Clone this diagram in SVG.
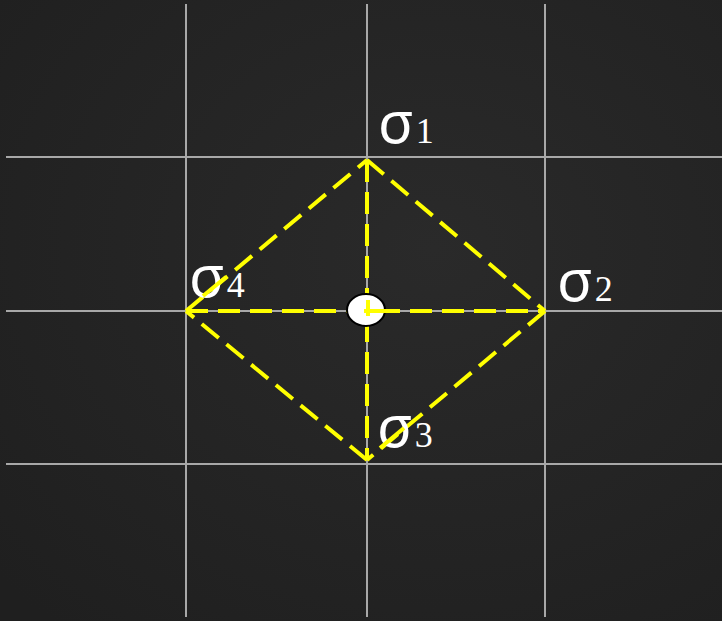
<svg xmlns="http://www.w3.org/2000/svg" width="722" height="621" viewBox="0 0 722 621">
<style>
.grid{stroke:#a8a8a8;stroke-width:2;fill:none}
.dash{stroke:#ffff00;stroke-width:4;fill:none;stroke-dasharray:22 10}
.sig{font-family:"Noto Sans","DejaVu Sans",sans-serif;font-size:58px;fill:#ffffff}
.sub{font-family:"Liberation Serif","DejaVu Serif",serif;font-size:36px;fill:#ffffff}
</style>
<defs>
<radialGradient id="bg" cx="0.6" cy="0.4" r="0.8">
<stop offset="0" stop-color="#2a2a2a"/>
<stop offset="1" stop-color="#1f1f1f"/>
</radialGradient>
</defs>
<rect width="722" height="621" fill="url(#bg)"/>
<g id="grid">
<line class="grid" x1="186" y1="4" x2="186" y2="617"/>
<line class="grid" x1="367" y1="4" x2="367" y2="617"/>
<line class="grid" x1="545" y1="4" x2="545" y2="617"/>
<line class="grid" x1="6" y1="157" x2="722" y2="157"/>
<line class="grid" x1="6" y1="311" x2="722" y2="311"/>
<line class="grid" x1="6" y1="464" x2="722" y2="464"/>
</g>
<g id="connectors">
<line class="dash" x1="367" y1="160" x2="545" y2="311"/>
<line class="dash" x1="545" y1="311" x2="367" y2="460"/>
<line class="dash" x1="367" y1="460" x2="186" y2="311"/>
<line class="dash" x1="186" y1="311" x2="367" y2="160"/>
<line class="dash" x1="367" y1="160" x2="367" y2="460"/>
<line class="dash" x1="186" y1="311" x2="545" y2="311"/>
</g>
<g id="center">
<ellipse cx="366" cy="310" rx="19" ry="16" fill="#ffffff" stroke="#000000" stroke-width="2"/>
<line x1="368" y1="300" x2="368" y2="316" stroke="#ffff00" stroke-width="4"/>
<line x1="364" y1="311" x2="394" y2="311" stroke="#ffff00" stroke-width="4"/>
</g>
<g id="sigma1"><text x="378" y="143"><tspan class="sig">σ</tspan><tspan class="sub" dx="2">1</tspan></text></g>
<g id="sigma2"><text x="557" y="301"><tspan class="sig">σ</tspan><tspan class="sub" dx="2">2</tspan></text></g>
<g id="sigma4"><text x="189" y="297"><tspan class="sig">σ</tspan><tspan class="sub" dx="2">4</tspan></text></g>
<g id="sigma3"><text x="377" y="447"><tspan class="sig">σ</tspan><tspan class="sub" dx="2">3</tspan></text></g>
<g id="overlays">
<line class="dash" x1="203" y1="296" x2="226" y2="277" style="stroke-dasharray:none"/>
<line class="dash" x1="380" y1="448" x2="404" y2="428" style="stroke-dasharray:none"/>
</g>
</svg>
